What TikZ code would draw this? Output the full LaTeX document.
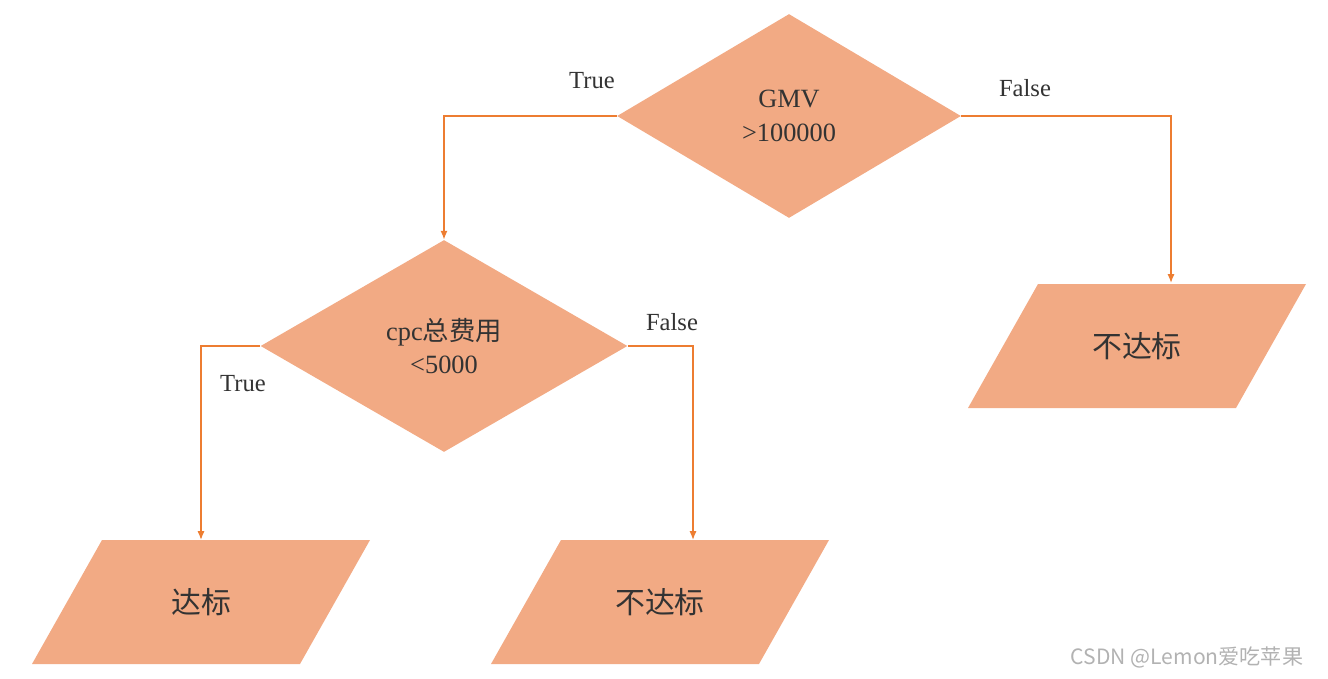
\documentclass[tikz,border=0pt]{standalone}
\usepackage{fontspec}
\setmainfont{Liberation Serif}
\newfontfamily\cjk{Noto Sans CJK SC}
\usetikzlibrary{shapes.geometric,arrows.meta}
\definecolor{boxfill}{HTML}{F2AA84}
\definecolor{linkline}{HTML}{ED7D31}
\definecolor{txt}{HTML}{333333}
% parallelogram centred at (#1,#2)
\newcommand\parabox[2]{\fill[boxfill] (#1-169,#2+62) -- (#1+99,#2+62) -- (#1+169,#2-62) -- (#1-99,#2-62) -- cycle;}
\begin{document}
\begin{tikzpicture}[x=0.02cm,y=-0.02cm,
  decision/.style={diamond, fill=boxfill, minimum width=#1, inner sep=0pt, align=center, text=txt, font=\fontsize{15}{19}\selectfont},
  result/.style={text=txt, font=\fontsize{17}{20}\selectfont\cjk},
  label/.style={text=txt, font=\fontsize{14}{17}\selectfont},
  link/.style={linkline, thick, -{Latex[length=5pt,width=4pt]}}]
  \useasboundingbox (0,0) rectangle (1328,679);
  \node[decision, minimum width=6.88cm, minimum height=4.08cm] (gmv) at (789,116) {GMV\\>100000};
  \node[decision, minimum width=7.34cm, minimum height=4.24cm] (cpc) at (444,346) {cpc{\cjk 总费用}\\<5000};
  \parabox{1137}{346}
  \parabox{201}{602}
  \parabox{660}{602}
  \node[result] (fail1) at (1137,346) {不达标};
  \node[result] (pass) at (201,602) {达标};
  \node[result] (fail2) at (660,602) {不达标};
  \coordinate (top1) at (1171,283);
  \coordinate (top2) at (201,540);
  \coordinate (top3) at (693,540);
  \draw[link] (gmv.west) -| (cpc.north);
  \draw[link] (gmv.east) -| (top1);
  \draw[link] (cpc.west) -| (top2);
  \draw[link] (cpc.east) -| (top3);
  \node[label] (t1) at (592,81) {True};
  \node[label] (f1) at (1025,88) {False};
  \node[label] (f2) at (672,322) {False};
  \node[label] (t2) at (243,384) {True};
  \node[text=gray!60, font=\fontsize{12}{14}\selectfont\cjk] (mark) at (1187,657) {CSDN @Lemon爱吃苹果};
\end{tikzpicture}
\end{document}
